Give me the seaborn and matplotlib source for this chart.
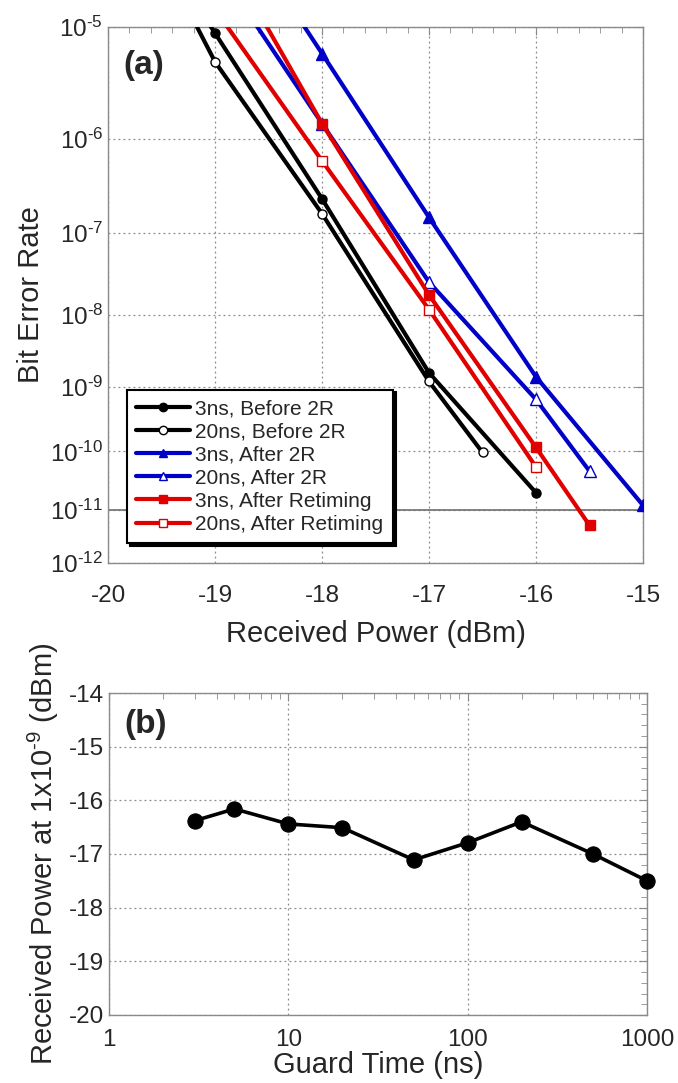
import numpy as np
import matplotlib
matplotlib.use("Agg")
import matplotlib.pyplot as plt
import matplotlib.ticker as mticker
import seaborn as sns

sns.set_style("white")
plt.rcParams['font.family'] = ['Liberation Sans', 'DejaVu Sans']
plt.rcParams['mathtext.default'] = 'regular'

# (a) BER curves: received power (dBm) vs bit error rate
# first points of some series sit above 1e-5 (off the axes, line gets clipped)
x_3ns_before = [-19.5, -19, -18, -17, -16]
ber_3ns_before = [3.9e-5, 8.9e-6, 2.4e-7, 1.6e-9, 2.0e-11]
x_20ns_before = [-19.5, -19, -18, -17, -16.5]
ber_20ns_before = [3.4e-5, 5.1e-6, 1.65e-7, 1.2e-9, 9.6e-11]
x_3ns_2r = [-19, -18, -17, -16, -15]
ber_3ns_2r = [1.0e-4, 6.0e-6, 1.5e-7, 1.4e-9, 1.2e-11]
x_20ns_2r = [-19, -18, -17, -16, -15.5]
ber_20ns_2r = [3.1e-5, 1.4e-6, 2.6e-8, 6.5e-10, 4.7e-11]
x_3ns_rt = [-19, -18, -17, -16, -15.5]
ber_3ns_rt = [4.9e-5, 1.4e-6, 1.8e-8, 1.16e-10, 5.2e-12]
x_20ns_rt = [-19.5, -18, -17, -16]
ber_20ns_rt = [5.1e-5, 6.0e-7, 1.17e-8, 5.5e-11]

# (b) power at BER 1e-9 vs guard time
guard_ns = [3, 5, 10, 20, 50, 100, 200, 500, 1000]
power_1e9 = [-16.38, -16.16, -16.44, -16.51, -17.11, -16.79, -16.40, -17.0, -17.50]

ber_ticks = [1e-5, 1e-6, 1e-7, 1e-8, 1e-9, 1e-10, 1e-11, 1e-12]

BLUE = '#0000c8'
RED = '#e00000'
GRID = '#8a8a8a'
SPINE = '#8a8a8a'


# BER axis: straight lines in -log10(-log10(BER))
def ber_fwd(y):
    y = np.clip(np.asarray(y, dtype=float), 1e-300, 0.999)
    return -np.log10(-np.log10(y))


def ber_inv(t):
    t = np.clip(np.asarray(t, dtype=float), -3, 3)
    return 10.0 ** (-(10.0 ** (-t)))


fig = plt.figure(figsize=(6.78, 10.83), dpi=100)
ax1 = fig.add_axes([0.1593, 0.4801, 0.7891, 0.4950])
ax2 = fig.add_axes([0.1608, 0.0628, 0.7935, 0.2973])

# ---------- panel (a) ----------
ax1.set_xlim(-20, -15)
ax1.set_ylim(1e-12, 1e-5)
ax1.set_yscale('function', functions=(ber_fwd, ber_inv))
ax1.set_ylim(1e-12, 1e-5)
ax1.set_autoscale_on(False)
ax1.axhline(1e-11, color='#707070', lw=1.2, zorder=1)

series = [
    (x_3ns_before, ber_3ns_before, '3ns, Before 2R', 'k', 'o', 'k', 6.5),
    (x_20ns_before, ber_20ns_before, '20ns, Before 2R', 'k', 'o', 'white', 6.5),
    (x_3ns_2r, ber_3ns_2r, '3ns, After 2R', BLUE, '^', BLUE, 8),
    (x_20ns_2r, ber_20ns_2r, '20ns, After 2R', BLUE, '^', 'white', 8),
    (x_3ns_rt, ber_3ns_rt, '3ns, After Retiming', RED, 's', RED, 7),
    (x_20ns_rt, ber_20ns_rt, '20ns, After Retiming', RED, 's', 'white', 7),
]
for xs, ys, lab, col, mk, face, ms in series:
    sns.lineplot(x=xs, y=ys, ax=ax1, color=col, lw=3, marker=mk, markersize=ms,
                 markerfacecolor=face, markeredgecolor=col, markeredgewidth=1,
                 label=lab, zorder=3)

ax1.set_xlim(-20, -15)
ax1.set_ylim(1e-12, 1e-5)
ax1.set_xticks([-20, -19, -18, -17, -16, -15])
ax1.set_xticklabels(['-20', '-19', '-18', '-17', '-16', '-15'])
ax1.xaxis.set_minor_locator(mticker.MultipleLocator(0.2))
ax1.set_yticks(ber_ticks)
ax1.set_yticklabels(['10$^{\u2010%d}$' % int(round(-np.log10(v))) for v in ber_ticks])
ax1.yaxis.set_minor_locator(mticker.NullLocator())
ax1.set_xlabel('Received Power (dBm)', fontsize=21, labelpad=9)
ax1.set_ylabel('Bit Error Rate', fontsize=21, labelpad=4)
ax1.text(0.028, 0.957, '(a)', transform=ax1.transAxes, fontsize=24,
         fontweight='bold', ha='left', va='top')

leg = ax1.legend(loc='lower left', bbox_to_anchor=(0.035, 0.037), borderaxespad=0,
                 fontsize=15, handlelength=2.6, handletextpad=0.25,
                 labelspacing=0.2, borderpad=0.45, fancybox=False,
                 framealpha=1, edgecolor='k', shadow={'color': 'k', 'alpha': 1})
leg.get_frame().set_linewidth(1.5)
for h in leg.legend_handles:
    h.set_markersize(6)

# ---------- panel (b) ----------
ax2.set_xscale('log')
sns.lineplot(x=guard_ns, y=power_1e9, ax=ax2, color='k', lw=2.6, marker='o',
             markersize=11, markeredgecolor='k', zorder=3, clip_on=False)
ax2.set_xlim(1, 1000)
ax2.set_ylim(-20, -14)
ax2.set_xticks([1, 10, 100, 1000])
ax2.set_xticklabels(['1', '10', '100', '1000'])
ax2.set_yticks([-14, -15, -16, -17, -18, -19, -20])
ax2.set_yticklabels(['-14', '-15', '-16', '-17', '-18', '-19', '-20'])
ax2.yaxis.set_minor_locator(mticker.MultipleLocator(0.2))
ax2.xaxis.set_minor_locator(mticker.LogLocator(base=10, subs=np.arange(2, 10)))
ax2.xaxis.set_minor_formatter(mticker.NullFormatter())
ax2.set_xlabel('Guard Time (ns)', fontsize=21, labelpad=0)
ax2.set_ylabel('Received Power at 1x10$^{\u20109}$ (dBm)', fontsize=21, labelpad=6)
ax2.text(0.028, 0.95, '(b)', transform=ax2.transAxes, fontsize=24,
         fontweight='bold', ha='left', va='top')

for ax in (ax1, ax2):
    ax.grid(True, which='major', color=GRID, lw=0.9, ls=(0, (1.5, 2.5)))
    ax.tick_params(which='both', direction='in', top=True, right=True,
                   color=SPINE, labelsize=17.5)
    ax.tick_params(which='major', length=6)
    ax.tick_params(which='minor', length=4)
    for s in ax.spines.values():
        s.set_color(SPINE)
        s.set_linewidth(1.0)
ax1.tick_params(axis='x', which='major', pad=16)
ax2.tick_params(axis='x', which='major', pad=10)

fig.savefig('out.png', dpi=100)
